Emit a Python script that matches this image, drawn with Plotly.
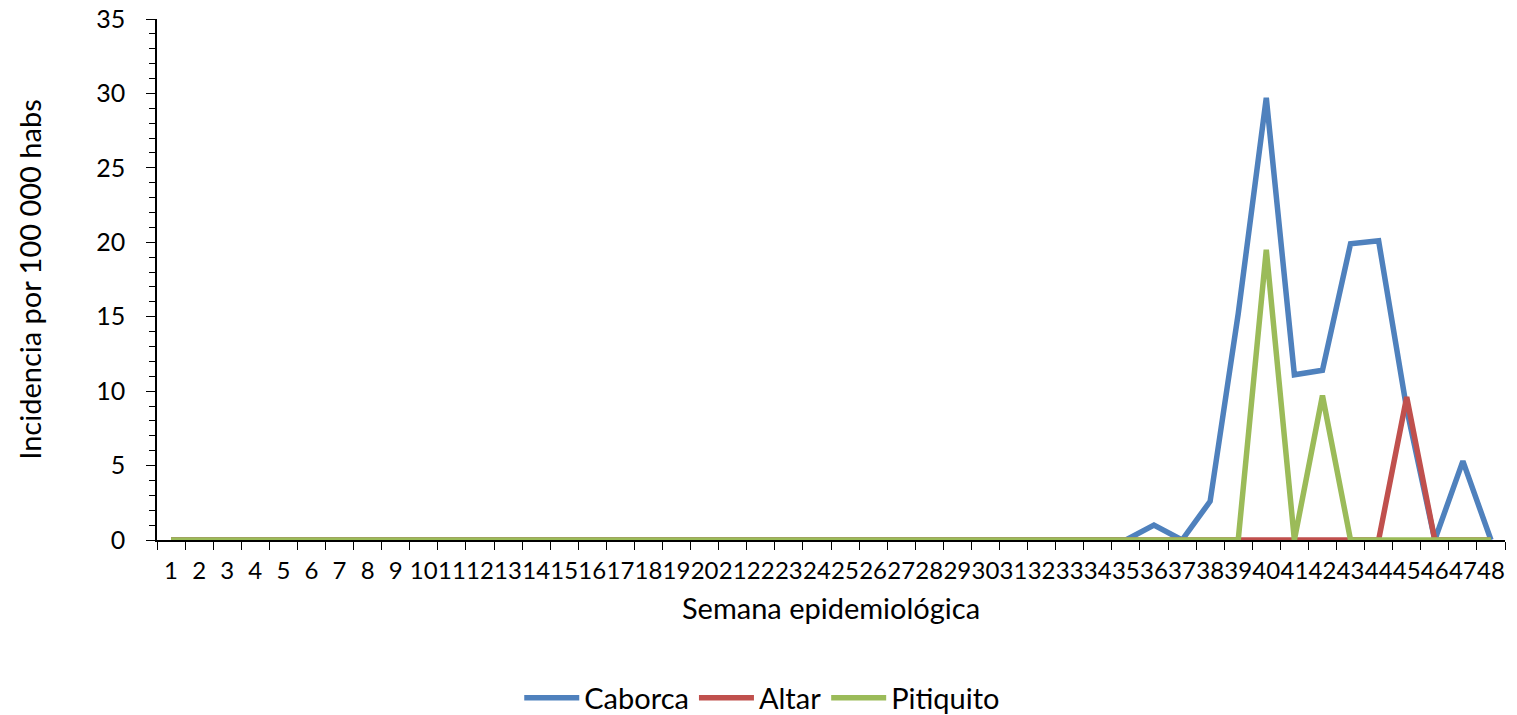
import plotly.graph_objects as go

weeks = [str(i) for i in range(1, 49)]
caborca = [0]*35 + [1.0, 0, 2.6, 15.2, 29.7, 11.1, 11.4, 19.9, 20.1, 8.8, 0, 5.3, 0]
altar = [0]*44 + [9.6, 0, 0, 0]
pitiquito = [0]*39 + [19.5, 0, 9.7] + [0]*6

series = [("Caborca", caborca, "#4F81BD"), ("Altar", altar, "#C0504D"), ("Pitiquito", pitiquito, "#9BBB59")]

FONT = "Lato"
fig = go.Figure()
for name, vals, col in series:
    fig.add_trace(go.Scatter(x=weeks, y=vals, mode="lines", name=name,
                             line=dict(color=col, width=5.5)))

fig.update_layout(
    width=1509, height=707,
    margin=dict(l=149, r=12, t=11, b=175, autoexpand=False),
    paper_bgcolor="white", plot_bgcolor="white",
    font=dict(family=FONT, color="black", size=24),
    showlegend=True,
    legend=dict(orientation="h", x=0.449, xanchor="center", y=-0.303, yanchor="middle",
                font=dict(size=29, family=FONT), tracegroupgap=0, itemwidth=55),
    xaxis=dict(type="category", tickson="boundaries", ticks="outside", ticklen=8,
               tickcolor="black", showline=True, linecolor="black", linewidth=1.5,
               showgrid=False, zeroline=False, tickfont=dict(size=24), tickangle=0,
               tickmode="array", tickvals=weeks, ticktext=weeks,
               ticklabelstandoff=8, automargin=False,
               title=dict(text="Semana epidemiológica", font=dict(size=29), standoff=16),
               range=[-0.5, 47.5]),
    yaxis=dict(range=[0, 35], dtick=5, ticks="outside", ticklen=9, tickcolor="black",
               showline=True, linecolor="black", linewidth=1.5, showgrid=False,
               zeroline=False, tickfont=dict(size=25), automargin=False,
               ticklabelstandoff=16, ticklabeloverflow="allow",
               minor=dict(dtick=1, ticks="outside", ticklen=6, tickcolor="black"),
               title=dict(text="Incidencia por 100 000 habs", font=dict(size=29), standoff=46)),
)

fig.write_html("out.html")
